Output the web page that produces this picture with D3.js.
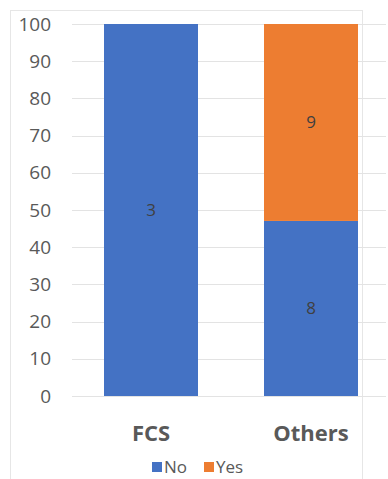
<!DOCTYPE html>
<html><head><meta charset="utf-8">
<script src="https://cdn.jsdelivr.net/npm/d3@7"></script>
<style>body{margin:0;background:#fff;}svg{display:block;}</style>
</head><body>
<script>
const categories = ["FCS", "Others"];
const seriesNames = ["No", "Yes"];
const noPct = [100, 47.06];
const yesPct = [0, 52.94];
const noCount = [3, 8];
const yesCount = [0, 9];
const yTicks = [0,10,20,30,40,50,60,70,80,90,100];
const colors = {No: "#4472C4", Yes: "#ED7D31"};

const W = 388, H = 479;
const svg = d3.select("body").append("svg").attr("width", W).attr("height", H);
const font = "'Open Sans', 'Liberation Sans', sans-serif";

// chart frame
svg.append("rect").attr("x", 10.5).attr("y", 10.5).attr("width", 352).attr("height", 475)
  .attr("fill", "none").attr("stroke", "#e6e6e6");

const y = d3.scaleLinear().domain([0, 100]).range([396, 24]);
const x = d3.scaleBand().domain(categories).range([71, 391]).paddingInner(0.4125).paddingOuter(0.20625);

// gridlines
svg.append("g").selectAll("line").data(yTicks).join("line")
  .attr("x1", 72).attr("x2", 386)
  .attr("y1", d => Math.round(y(d)) + 0.5).attr("y2", d => Math.round(y(d)) + 0.5)
  .attr("stroke", "#e3e3e3");

// y axis labels
const yAxis = d3.axisLeft(y).tickValues(yTicks).tickSize(0).tickPadding(0);
const ga = svg.append("g").attr("transform", "translate(51,0)").call(yAxis);
ga.select(".domain").remove();
ga.selectAll("text").attr("font-family", font).attr("font-size", 19).attr("fill", "#595959");

const rows = categories.map((c, i) => ({cat: c, No: noPct[i], Yes: yesPct[i], nNo: noCount[i], nYes: yesCount[i]}));
const stack = d3.stack().keys(seriesNames)(rows);

const groups = svg.append("g").selectAll("g").data(stack).join("g").attr("fill", d => colors[d.key]);
groups.selectAll("rect").data(d => d.filter(p => p[1] - p[0] > 0)).join("rect")
  .attr("x", d => x(d.data.cat)).attr("width", x.bandwidth())
  .attr("y", d => y(d[1])).attr("height", d => y(d[0]) - y(d[1]));

// data labels
stack.forEach(s => {
  s.forEach(p => {
    const n = s.key === "No" ? p.data.nNo : p.data.nYes;
    if (p[1] - p[0] <= 0) return;
    svg.append("text").attr("x", x(p.data.cat) + x.bandwidth() / 2).attr("y", y((p[0] + p[1]) / 2))
      .attr("dy", "0.35em").attr("text-anchor", "middle")
      .attr("font-family", font).attr("font-size", 17).attr("fill", "#404040").text(n);
  });
});

// x axis labels
const xAxis = d3.axisBottom(x).tickSize(0).tickPadding(0);
const gx = svg.append("g").attr("transform", "translate(0,425)").call(xAxis);
gx.select(".domain").remove();
gx.selectAll("text").attr("font-family", font).attr("font-size", 22).attr("font-weight", "bold").attr("fill", "#595959");

// legend
const legend = svg.append("g").attr("transform", "translate(152,467)");
const items = [{k: "No", x: 0}, {k: "Yes", x: 52}];
items.forEach(it => {
  legend.append("rect").attr("x", it.x).attr("y", -5).attr("width", 10).attr("height", 10).attr("fill", colors[it.k]);
  legend.append("text").attr("x", it.x + 12).attr("y", 0).attr("dy", "0.35em")
    .attr("font-family", font).attr("font-size", 17).attr("fill", "#595959").text(it.k);
});
</script>
</body></html>
